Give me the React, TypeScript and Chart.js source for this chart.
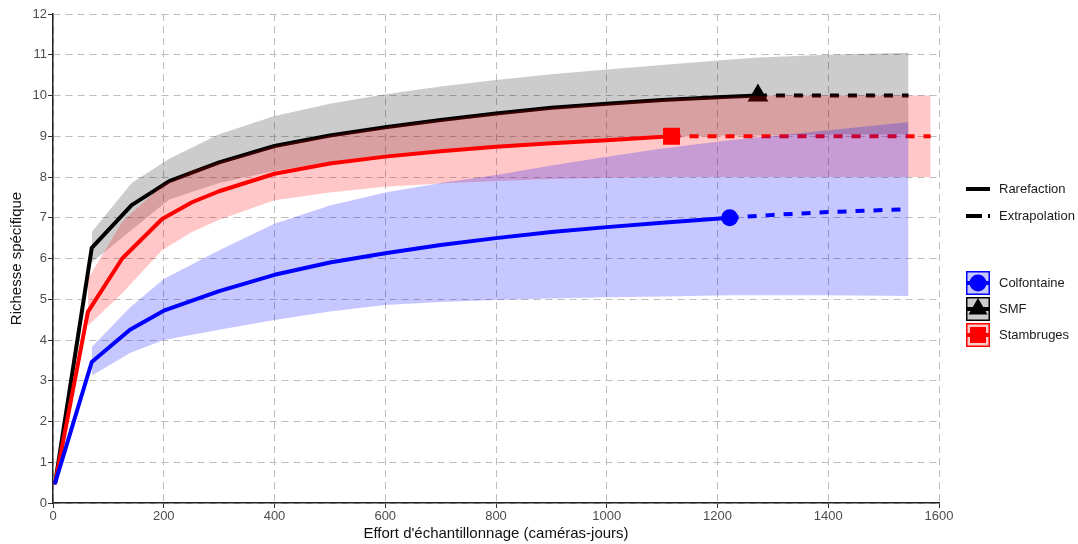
import React, { useEffect, useRef } from 'react';
import { Chart, registerables } from 'chart.js';

Chart.register(...registerables);

const FONT = "'Liberation Sans', Arial, sans-serif";

// ---- SMF (black) ----
const SMF_X = [4, 70, 142, 210, 300, 400, 500, 600, 700, 800, 900, 1000, 1100, 1200, 1273];
const SMF_Y = [0.5, 6.26, 7.31, 7.9, 8.36, 8.76, 9.02, 9.22, 9.4, 9.56, 9.7, 9.8, 9.89, 9.96, 10.0];
const SMF_EXT_X = [1273, 1545];
const SMF_EXT_Y = [10.0, 10.0];
const SMF_BAND_X = [70, 142, 210, 300, 400, 500, 600, 700, 800, 900, 1000, 1100, 1200, 1273, 1400, 1545];
const SMF_UP = [6.65, 7.85, 8.45, 9.05, 9.5, 9.8, 10.03, 10.22, 10.38, 10.52, 10.64, 10.75, 10.86, 10.93, 11.0, 11.05];
const SMF_LO = [5.9, 6.7, 7.45, 7.85, 8.15, 8.37, 8.53, 8.66, 8.77, 8.86, 8.93, 8.98, 9.01, 9.02, 9.04, 9.05];

// ---- Stambruges (red) ----
const STA_X = [4, 63, 125, 197, 251, 300, 400, 500, 600, 700, 800, 900, 1000, 1117];
const STA_Y = [0.5, 4.69, 6.0, 6.97, 7.38, 7.65, 8.08, 8.33, 8.5, 8.63, 8.74, 8.83, 8.9, 9.0];
const STA_EXT_X = [1117, 1585];
const STA_EXT_Y = [9.0, 9.0];
const STA_BAND_X = [63, 125, 197, 251, 300, 400, 500, 600, 700, 800, 900, 1000, 1117, 1300, 1585];
const STA_UP = [5.5, 6.9, 7.8, 8.15, 8.36, 8.76, 9.02, 9.22, 9.4, 9.56, 9.7, 9.8, 9.92, 10.0, 10.0];
const STA_LO = [4.35, 5.15, 6.2, 6.65, 6.95, 7.43, 7.62, 7.76, 7.84, 7.9, 7.95, 7.98, 8.0, 8.0, 8.0];

// ---- Colfontaine (blue) ----
const COL_X = [4, 70, 139, 200, 300, 400, 500, 600, 700, 800, 900, 1000, 1100, 1222];
const COL_Y = [0.5, 3.46, 4.25, 4.72, 5.2, 5.6, 5.9, 6.13, 6.33, 6.5, 6.65, 6.77, 6.88, 7.0];
const COL_EXT_X = [1222, 1300, 1400, 1545];
const COL_EXT_Y = [7.0, 7.07, 7.14, 7.21];
const COL_BAND_X = [70, 139, 200, 300, 400, 500, 600, 700, 800, 900, 1000, 1100, 1222, 1400, 1545];
const COL_UP = [3.83, 4.8, 5.5, 6.2, 6.85, 7.3, 7.62, 7.85, 8.05, 8.28, 8.5, 8.7, 8.9, 9.15, 9.35];
const COL_LO = [3.12, 3.68, 4.0, 4.25, 4.49, 4.7, 4.86, 4.93, 4.98, 5.02, 5.05, 5.07, 5.1, 5.1, 5.08];

const SITES = ['Colfontaine', 'SMF', 'Stambruges'];
const METHODS = ['Rarefaction', 'Extrapolation'];
const X_TITLE = "Effort d'échantillonnage (caméras-jours)";
const Y_TITLE = 'Richesse spécifique';

const pts = (xs: number[], ys: number[]) => xs.map((x, i) => ({ x, y: ys[i] }));

type SiteDef = {
  x: number[]; y: number[]; ex: number[]; ey: number[];
  bx: number[]; up: number[]; lo: number[];
  line: string; band: string; point: string; radius: number;
};

const SITE_DEFS: SiteDef[] = [
  { x: SMF_X, y: SMF_Y, ex: SMF_EXT_X, ey: SMF_EXT_Y, bx: SMF_BAND_X, up: SMF_UP, lo: SMF_LO,
    line: '#000000', band: 'rgba(0,0,0,0.2)', point: 'triangle', radius: 12 },
  { x: STA_X, y: STA_Y, ex: STA_EXT_X, ey: STA_EXT_Y, bx: STA_BAND_X, up: STA_UP, lo: STA_LO,
    line: '#ff0000', band: 'rgba(255,0,0,0.22)', point: 'rect', radius: 12 },
  { x: COL_X, y: COL_Y, ex: COL_EXT_X, ey: COL_EXT_Y, bx: COL_BAND_X, up: COL_UP, lo: COL_LO,
    line: '#0000ff', band: 'rgba(0,0,255,0.22)', point: 'circle', radius: 8.5 },
];

function buildDatasets() {
  const ds: any[] = [];
  let order = 100;
  SITE_DEFS.forEach((s) => {
    const upIdx = ds.length;
    ds.push({
      data: pts(s.bx, s.up), borderWidth: 0, pointRadius: 0, fill: false,
      borderColor: 'rgba(0,0,0,0)', order: order--,
    });
    ds.push({
      data: pts(s.bx, s.lo), borderWidth: 0, pointRadius: 0, fill: upIdx,
      borderColor: 'rgba(0,0,0,0)', backgroundColor: s.band, order: order--,
    });
    ds.push({
      data: pts(s.x, s.y), borderColor: s.line, borderWidth: 4, pointRadius: 0,
      fill: false, borderCapStyle: 'round', borderJoinStyle: 'round', order: order--,
    });
    ds.push({
      data: pts(s.ex, s.ey), borderColor: s.line, borderWidth: 4, pointRadius: 0,
      fill: false, borderDash: [9, 9], borderCapStyle: 'butt', order: order--,
    });
    ds.push({
      data: [{ x: s.x[s.x.length - 1], y: s.y[s.y.length - 1] }],
      showLine: false, pointStyle: s.point, pointRadius: s.radius,
      pointBackgroundColor: s.line, pointBorderColor: s.line, pointBorderWidth: 0,
      order: order--,
    });
  });
  return ds;
}

const legendPlugin = {
  id: 'customLegend',
  afterDraw(chart: any) {
    const ctx: CanvasRenderingContext2D = chart.ctx;
    ctx.save();
    const line = (x1: number, y1: number, x2: number, y2: number) => {
      ctx.beginPath(); ctx.moveTo(x1, y1); ctx.lineTo(x2, y2); ctx.stroke();
    };
    ctx.font = `13px ${FONT}`;
    ctx.textBaseline = 'middle';
    ctx.textAlign = 'left';
    // method legend
    ctx.strokeStyle = '#000'; ctx.lineWidth = 4; ctx.lineCap = 'butt';
    ctx.setLineDash([]);
    line(966, 189, 990, 189);
    ctx.setLineDash([16, 6]);
    line(966, 216, 990, 216);
    ctx.setLineDash([]);
    ctx.fillStyle = '#1a1a1a';
    ctx.fillText(METHODS[0], 999, 189);
    ctx.fillText(METHODS[1], 999, 216);

    // site legend
    const keys = [
      { y: 271, fill: 'rgba(0,0,255,0.22)', col: '#0000ff', shape: 'circle' },
      { y: 297, fill: 'rgba(0,0,0,0.2)', col: '#000000', shape: 'triangle' },
      { y: 323, fill: 'rgba(255,0,0,0.22)', col: '#ff0000', shape: 'rect' },
    ];
    keys.forEach((k, i) => {
      const x = 966, w = 24;
      ctx.fillStyle = '#ffffff';
      ctx.fillRect(x, k.y, w, w);
      ctx.fillStyle = k.fill;
      ctx.fillRect(x, k.y, w, w);
      ctx.strokeStyle = k.col; ctx.lineWidth = 1.5;
      ctx.strokeRect(x + 0.75, k.y + 0.75, w - 1.5, w - 1.5);
      const cx = x + w / 2, cy = k.y + w / 2;
      ctx.lineWidth = 4;
      line(x + 1, cy, x + w - 1, cy);
      ctx.fillStyle = k.col;
      ctx.beginPath();
      if (k.shape === 'circle') {
        ctx.arc(cx, cy, 8.5, 0, Math.PI * 2);
      } else if (k.shape === 'triangle') {
        ctx.moveTo(cx, cy - 11);
        ctx.lineTo(cx + 9.5, cy + 5.5);
        ctx.lineTo(cx - 9.5, cy + 5.5);
        ctx.closePath();
      } else {
        ctx.rect(cx - 8, cy - 8, 16, 16);
      }
      ctx.fill();
      ctx.fillStyle = '#1a1a1a';
      ctx.fillText(SITES[i], 999, cy);
    });
    ctx.restore();
  },
};

export default function App() {
  const ref = useRef<HTMLCanvasElement | null>(null);
  useEffect(() => {
    document.body.style.margin = '0';
    const canvas = ref.current;
    if (!canvas) return;
    const gridColor = '#bdbdbd';
    const chart = new Chart(canvas, {
      type: 'line',
      data: { datasets: buildDatasets() },
      plugins: [legendPlugin],
      options: {
        responsive: false,
        animation: false,
        events: [],
        layout: { padding: { left: 0, right: 139, top: 14, bottom: 0 } },
        plugins: { legend: { display: false }, tooltip: { enabled: false } },
        elements: { line: { tension: 0 } },
        scales: {
          x: {
            type: 'linear', min: 0, max: 1600,
            ticks: { stepSize: 200, color: '#4d4d4d', font: { size: 13, family: FONT }, padding: 1, maxRotation: 0,
              callback: (v: any) => String(v) },
            grid: { color: gridColor, lineWidth: 1, tickColor: '#333', tickLength: 5 },
            border: { display: true, color: '#222', width: 1.5, dash: [7, 5] },
            title: { display: true, text: X_TITLE, color: '#111', font: { size: 15, family: FONT }, padding: { top: 0, bottom: 1 } },
            afterFit: (s: any) => { s.height = 41; },
          },
          y: {
            type: 'linear', min: 0, max: 12,
            ticks: { stepSize: 1, color: '#4d4d4d', font: { size: 13, family: FONT }, padding: 1,
              callback: (v: any) => String(v) },
            grid: { color: gridColor, lineWidth: 1, tickColor: '#333', tickLength: 5 },
            border: { display: true, color: '#222', width: 1.5, dash: [7, 5] },
            title: { display: true, text: Y_TITLE, color: '#111', font: { size: 15, family: FONT }, padding: { top: 8, bottom: 0 } },
            afterFit: (s: any) => { s.width = 53; },
          },
        },
      } as any,
    });
    return () => chart.destroy();
  }, []);
  return (
    <div style={{ position: 'fixed', left: 0, top: 0, width: 1078, height: 544, background: '#fff' }}>
      <canvas ref={ref} width={1078} height={544} style={{ display: 'block', width: 1078, height: 544 }} />
    </div>
  );
}
